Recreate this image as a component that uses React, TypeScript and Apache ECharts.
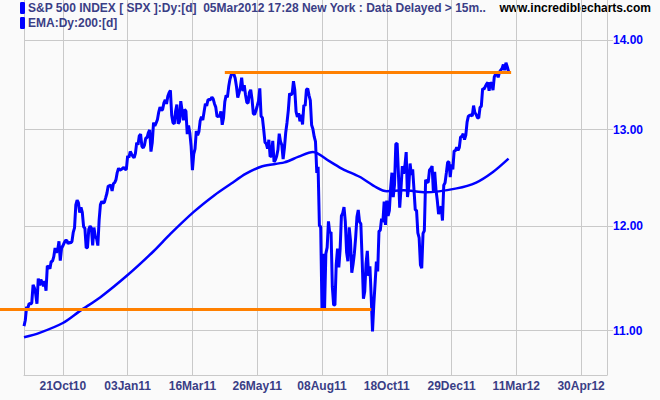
import React, { useEffect, useRef } from "react";
import * as echarts from "echarts";

// ---- dates ----
const START = "2010-09-09";
const LAST_TRADING = "2012-03-05";
const END = "2012-05-20";
const HOLIDAYS = [
  "2010-11-25", "2010-12-24", "2011-01-17", "2011-02-21", "2011-04-22", "2011-05-30",
  "2011-07-04", "2011-09-05", "2011-11-24", "2011-12-26", "2012-01-02", "2012-01-16", "2012-02-20",
];
const X_TICKS = ["21Oct10", "03Jan11", "16Mar11", "26May11", "08Aug11", "18Oct11", "29Dec11", "11Mar12", "30Apr12"];
const Y_TICKS = [1100, 1200, 1300, 1400];

// ---- S&P 500 daily closes ----
const sep10 = [1104.18, 1109.55, 1121.9, 1121.1, 1125.07, 1124.66, 1125.59, 1142.71, 1139.78, 1134.28, 1124.83, 1148.67, 1142.16, 1147.7, 1144.73, 1141.2];
const oct10 = [1146.24, 1137.03, 1160.75, 1159.97, 1158.06, 1165.15, 1165.32, 1169.77, 1178.1, 1173.81, 1176.19, 1184.71, 1165.9, 1178.17, 1180.26, 1183.08, 1185.62, 1185.64, 1182.45, 1183.78, 1183.26];
const nov10 = [1184.38, 1193.57, 1197.96, 1221.06, 1225.85, 1223.25, 1213.4, 1218.71, 1213.54, 1199.21, 1197.75, 1178.34, 1178.59, 1196.69, 1199.73, 1197.84, 1180.73, 1198.35, 1189.4, 1187.76, 1180.55];
const dec10 = [1206.07, 1221.53, 1224.71, 1223.12, 1223.75, 1228.28, 1233.0, 1240.4, 1240.46, 1241.59, 1235.23, 1242.87, 1243.91, 1247.08, 1254.6, 1258.84, 1256.77, 1257.54, 1258.51, 1259.78, 1257.88, 1257.64];
const jan11 = [1271.87, 1270.2, 1276.56, 1273.85, 1271.5, 1269.75, 1274.48, 1285.96, 1283.76, 1293.24, 1295.02, 1281.92, 1280.26, 1283.35, 1290.84, 1291.18, 1296.63, 1299.54, 1276.34, 1286.12];
const feb11 = [1307.59, 1304.03, 1307.1, 1310.87, 1319.05, 1324.57, 1320.88, 1321.87, 1329.15, 1332.32, 1328.01, 1336.32, 1340.43, 1343.01, 1315.44, 1307.4, 1306.1, 1319.88, 1327.22];
const mar11 = [1306.33, 1308.44, 1330.97, 1321.15, 1310.13, 1321.82, 1320.02, 1295.11, 1304.28, 1296.39, 1281.87, 1256.88, 1273.72, 1279.21, 1298.38, 1293.77, 1297.54, 1309.66, 1313.8, 1310.19, 1319.44, 1328.26, 1325.83];
const apr11 = [1332.41, 1332.87, 1332.63, 1335.54, 1333.51, 1328.17, 1324.46, 1314.16, 1314.41, 1314.52, 1319.68, 1305.14, 1312.62, 1330.36, 1337.38, 1335.25, 1347.24, 1355.66, 1360.48, 1363.61];
const may11 = [1361.22, 1356.62, 1347.32, 1335.1, 1340.2, 1346.29, 1357.16, 1342.08, 1348.65, 1337.77, 1329.47, 1328.98, 1340.68, 1343.6, 1333.27, 1317.37, 1316.28, 1320.47, 1325.69, 1331.1, 1345.2];
const jun11 = [1314.55, 1312.94, 1300.16, 1286.17, 1284.94, 1279.56, 1289.0, 1270.98, 1271.83, 1287.87, 1265.42, 1267.64, 1271.5, 1278.36, 1295.52, 1287.14, 1283.5, 1268.45, 1280.1, 1296.67, 1307.41, 1320.64];
const jul11 = [1339.67, 1337.88, 1339.22, 1353.22, 1343.8, 1319.49, 1313.64, 1317.72, 1308.87, 1316.14, 1305.44, 1326.73, 1325.84, 1343.8, 1345.02, 1337.43, 1331.94, 1304.89, 1300.67, 1292.28];
const aug11 = [1286.94, 1254.05, 1260.34, 1200.07, 1199.38, 1119.46, 1172.53, 1120.76, 1172.64, 1178.81, 1204.49, 1192.76, 1193.89, 1140.65, 1123.53, 1123.82, 1162.35, 1177.6, 1159.27, 1176.8, 1210.08, 1212.92, 1218.89];
const sep11 = [1204.42, 1173.97, 1165.24, 1198.62, 1185.9, 1154.23, 1162.27, 1172.87, 1188.68, 1209.11, 1216.01, 1204.09, 1202.09, 1166.76, 1129.56, 1136.43, 1162.95, 1175.38, 1151.06, 1160.4, 1131.42];
const oct11 = [1099.23, 1123.95, 1144.03, 1164.97, 1155.46, 1194.89, 1195.54, 1207.25, 1203.66, 1224.58, 1200.86, 1225.38, 1209.88, 1215.39, 1238.25, 1254.19, 1229.05, 1242.0, 1284.59, 1285.09, 1253.3];
const nov11 = [1218.28, 1237.9, 1261.15, 1253.23, 1261.12, 1275.92, 1229.1, 1239.7, 1263.85, 1251.78, 1257.81, 1236.91, 1216.13, 1215.65, 1192.98, 1188.04, 1161.79, 1158.67, 1192.55, 1195.19, 1246.96];
const dec11 = [1244.58, 1244.28, 1257.08, 1258.47, 1261.01, 1234.35, 1255.19, 1236.47, 1225.73, 1211.82, 1215.75, 1219.66, 1205.35, 1241.3, 1243.72, 1254.0, 1265.33, 1265.43, 1249.64, 1263.02, 1257.6];
const jan12 = [1277.06, 1277.3, 1281.06, 1277.81, 1280.7, 1292.08, 1292.48, 1295.5, 1289.09, 1293.67, 1308.04, 1314.5, 1315.38, 1316.0, 1314.65, 1326.06, 1318.43, 1316.33, 1313.01, 1312.41];
const feb12 = [1324.09, 1325.54, 1344.9, 1344.33, 1347.05, 1349.96, 1351.95, 1342.64, 1351.77, 1350.5, 1343.23, 1358.04, 1361.23, 1362.21, 1357.66, 1363.46, 1365.74, 1367.59, 1372.18, 1365.68];
const mar12 = [1374.09, 1369.63, 1364.33];

// ---- EMA 200: trading-day offset from START, value ----
const emaDay = [0, 12, 30, 43, 59, 80, 100, 113, 131, 147, 160, 171, 184, 201, 212, 223, 236, 246, 259, 272, 280, 293, 310, 334, 349, 362, 374];
const emaVal = [1094, 1098, 1107, 1118, 1131, 1152, 1175, 1192, 1214, 1231, 1243, 1253, 1261, 1265, 1271, 1276, 1266, 1258, 1250, 1239, 1235, 1236, 1234, 1238, 1244, 1255, 1269];

// ---- horizontal levels ----
const SUPPORT = 1119.46;
const SUPPORT_END = "30Sep11";
const RESIST = 1363.61;
const RESIST_FROM = "20Apr11";
const RESIST_END = "07Mar12";

const SERIES_NAME = "S&P 500 INDEX [ SPX ]:Dy:[d] \u00a005Mar2012 17:28 New York : Data Delayed > 15m..";
const EMA_NAME = "EMA:Dy:200:[d]";

const MONTHS = ["Jan", "Feb", "Mar", "Apr", "May", "Jun", "Jul", "Aug", "Sep", "Oct", "Nov", "Dec"];
function fmt(d: Date) {
  return String(d.getUTCDate()).padStart(2, "0") + MONTHS[d.getUTCMonth()] + String(d.getUTCFullYear()).slice(2);
}
function buildDays() {
  const out: string[] = [];
  const hol = new Set(HOLIDAYS);
  const d = new Date(START + "T00:00:00Z");
  const last = Date.parse(LAST_TRADING + "T00:00:00Z");
  const end = Date.parse(END + "T00:00:00Z");
  while (d.getTime() <= end) {
    const iso = d.toISOString().slice(0, 10);
    const wd = d.getUTCDay();
    if (d.getTime() > last || (wd !== 0 && wd !== 6 && !hol.has(iso))) out.push(fmt(d));
    d.setUTCDate(d.getUTCDate() + 1);
  }
  return out;
}

const GRID = "#c9c9c9";
const FONT = "'Liberation Sans', Arial, sans-serif";
const BLUE = "#0000ff";

export default function App() {
  const ref = useRef<HTMLDivElement>(null);
  useEffect(() => {
    if (!ref.current) return;
    const chart = echarts.init(ref.current, undefined, { renderer: "svg" });
    const days = buildDays();
    const prices = [
      ...sep10, ...oct10, ...nov10, ...dec10, ...jan11, ...feb11, ...mar11, ...apr11, ...may11,
      ...jun11, ...jul11, ...aug11, ...sep11, ...oct11, ...nov11, ...dec11, ...jan12, ...feb12, ...mar12,
    ];
    const ema = emaDay.map((d, i) => [days[d], emaVal[i]]);
    const tickSet = new Set(X_TICKS);
    const showTick = (_i: number, v: string) => tickSet.has(v);
    const Y_MIN = 1060.2;
    const Y_MAX = 1447.7;
    chart.setOption({
      animation: false,
      backgroundColor: "#fafafa",
      textStyle: { fontFamily: FONT },
      grid: { left: 24, right: 53, top: 0, bottom: 25, containLabel: false },
      legend: {
        orient: "vertical",
        left: 20,
        top: 2,
        itemWidth: 5,
        itemHeight: 12,
        itemGap: 3,
        icon: "roundRect",
        selectedMode: false,
        padding: 0,
        textStyle: { fontFamily: FONT, fontWeight: "bold", fontSize: 12, color: "#3a3e86", padding: [0, 0, 0, -2] },
        data: [SERIES_NAME, EMA_NAME],
      },
      graphic: [
        {
          type: "text",
          right: 9,
          top: 2,
          style: { text: "www.incrediblecharts.com", fontFamily: FONT, fontWeight: "bold", fontSize: 12, fill: "#000" },
        },
      ],
      xAxis: {
        type: "category",
        data: days,
        boundaryGap: false,
        axisLine: { show: true, onZero: false, lineStyle: { color: GRID } },
        axisTick: { show: false },
        axisLabel: {
          interval: showTick,
          color: "#3a3e86",
          fontWeight: "bold",
          fontSize: 12,
          fontFamily: FONT,
          margin: 5,
        },
        splitLine: { show: true, interval: showTick, lineStyle: { color: GRID } },
      },
      yAxis: [
        {
          type: "log",
          logBase: 10,
          position: "right",
          min: Y_MIN,
          max: Y_MAX,
          axisLine: { show: true, lineStyle: { color: GRID } },
          axisTick: { show: true, length: 6, lineStyle: { color: GRID }, customValues: Y_TICKS },
          axisLabel: {
            customValues: Y_TICKS,
            formatter: (v: number) => (v / 100).toFixed(2),
            color: BLUE,
            fontWeight: "bold",
            fontSize: 12,
            fontFamily: FONT,
            margin: 6,
          },
          splitLine: { show: true, lineStyle: { color: GRID } },
        },
        {
          type: "value",
          position: "left",
          axisLine: { show: true, onZero: false, lineStyle: { color: GRID } },
          axisTick: { show: false },
          axisLabel: { show: false },
          splitLine: { show: false },
        },
      ],
      series: [
        {
          name: SERIES_NAME,
          type: "line",
          data: prices,
          showSymbol: false,
          symbol: "none",
          itemStyle: { color: BLUE },
          lineStyle: { color: BLUE, width: 3 },
          z: 3,
          markLine: {
            silent: true,
            symbol: "none",
            animation: false,
            label: { show: false },
            lineStyle: { color: "#ff8000", width: 3, type: "solid" },
            data: [
              [{ x: 0, coord: [days[0], SUPPORT] }, { coord: [SUPPORT_END, SUPPORT] }],
              [{ coord: [RESIST_FROM, RESIST] }, { coord: [RESIST_END, RESIST] }],
            ],
          },
        },
        {
          name: EMA_NAME,
          type: "line",
          data: ema,
          smooth: 0.3,
          showSymbol: false,
          symbol: "none",
          itemStyle: { color: BLUE },
          lineStyle: { color: BLUE, width: 2.5 },
          z: 2,
        },
      ],
    });
    return () => chart.dispose();
  }, []);
  return <div ref={ref} style={{ position: "absolute", left: 0, top: 0, width: 660, height: 400 }} />;
}
